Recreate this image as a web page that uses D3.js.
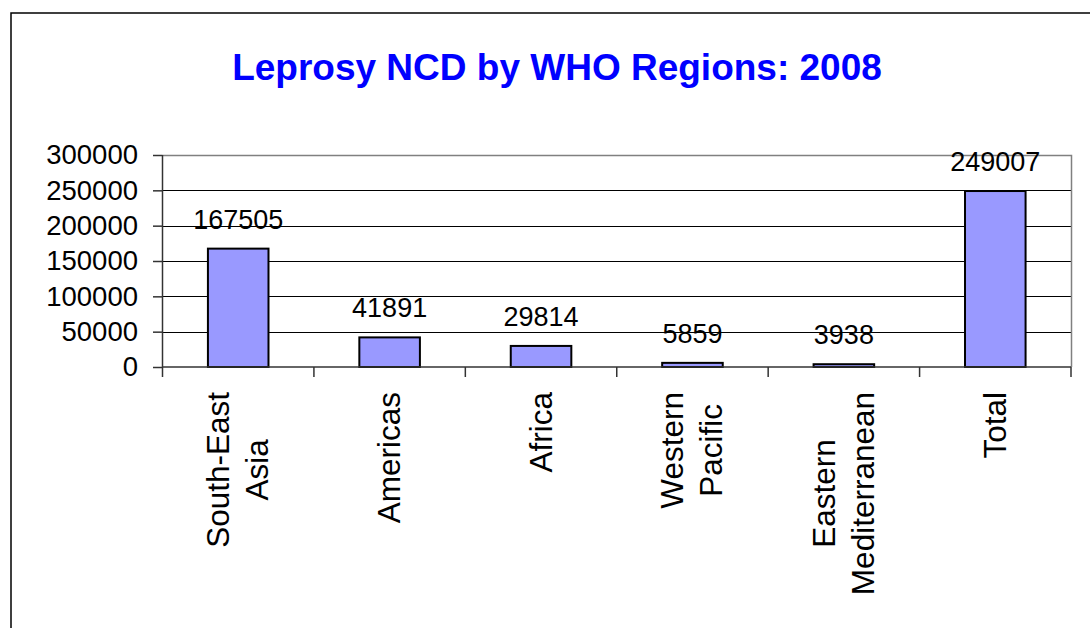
<!DOCTYPE html>
<html>
<head>
<meta charset="utf-8">
<script src="https://cdn.jsdelivr.net/npm/d3@7"></script>
<style>
  body { margin: 0; background: #fff; }
  text { font-family: "Liberation Sans", Arial, sans-serif; }
</style>
</head>
<body>
<svg id="chart"></svg>
<script>
const width = 1090;
const height = 628;

// data
const regions = [["South-East", "Asia"], ["Americas"], ["Africa"], ["Western", "Pacific"], ["Eastern", "Mediterranean"], ["Total"]];
const cases = [167505, 41891, 29814, 5859, 3938, 249007];
const yTicks = [0, 50000, 100000, 150000, 200000, 250000, 300000];
const title = "Leprosy NCD by WHO Regions: 2008";

const plot = { left: 162.5, right: 1071, top: 155, bottom: 367 };

let svg = d3.select("#chart")
  .attr("width", width)
  .attr("height", height);

// outer frame
svg.append("rect")
  .attr("x", 11)
  .attr("y", 13)
  .attr("width", 1200)
  .attr("height", 800)
  .attr("fill", "none")
  .attr("stroke", "#000")
  .attr("stroke-width", 1.5);

svg.append("text")
  .attr("x", 557)
  .attr("y", 80)
  .attr("text-anchor", "middle")
  .attr("font-size", "37px")
  .attr("font-weight", "bold")
  .attr("fill", "#0000ff")
  .text(title);

const keys = regions.map(d => d.join(" "));

const xScale = d3.scaleBand()
  .domain(keys)
  .range([plot.left, plot.right])
  .paddingInner(0.6)
  .paddingOuter(0.3);

const yScale = d3.scaleLinear()
  .domain([0, 300000])
  .range([plot.bottom, plot.top]);

// gridlines
svg.append("g")
  .selectAll("line")
  .data(yTicks.slice(1, -1))
  .enter()
  .append("line")
  .attr("x1", plot.left)
  .attr("x2", plot.right)
  .attr("y1", d => Math.round(yScale(d)) + 0.5)
  .attr("y2", d => Math.round(yScale(d)) + 0.5)
  .attr("stroke", "#000")
  .attr("stroke-width", 1);

// plot area border (top + right)
svg.append("path")
  .attr("d", `M${plot.left},${plot.top + 0.5}H${plot.right + 0.5}V${plot.bottom}`)
  .attr("fill", "none")
  .attr("stroke", "#808080")
  .attr("stroke-width", 1.5);

// bars
svg.append("g")
  .selectAll("rect")
  .data(cases)
  .enter()
  .append("rect")
  .attr("x", (d, i) => xScale(keys[i]))
  .attr("y", d => yScale(d))
  .attr("width", xScale.bandwidth())
  .attr("height", d => plot.bottom - yScale(d))
  .attr("fill", "#9999ff")
  .attr("stroke", "#000")
  .attr("stroke-width", 2);

// value labels
svg.append("g")
  .selectAll("text")
  .data(cases)
  .enter()
  .append("text")
  .attr("x", (d, i) => xScale(keys[i]) + xScale.bandwidth() / 2)
  .attr("y", d => yScale(d) - 20)
  .attr("text-anchor", "middle")
  .attr("font-size", "27px")
  .attr("fill", "#000")
  .text(d => d);

// y axis
const yAxis = d3.axisLeft(yScale)
  .tickValues(yTicks)
  .tickSizeInner(9.5)
  .tickSizeOuter(0)
  .tickPadding(15)
  .tickFormat(d3.format("d"));

const gy = svg.append("g")
  .attr("transform", `translate(${plot.left}, 0)`)
  .call(yAxis);
gy.select(".domain").attr("stroke", "#333").attr("stroke-width", 1.5)
  .attr("d", `M0,${plot.top}V${plot.bottom + 10}`);
gy.selectAll(".tick line").attr("stroke", "#333").attr("stroke-width", 1.5);
gy.selectAll(".tick text")
  .attr("font-size", "27.5px")
  .attr("font-family", "Liberation Sans, Arial, sans-serif")
  .attr("fill", "#000");

// x axis line and category boundary ticks
const bounds = d3.range(1, keys.length + 1).map(i => plot.left + i * (plot.right - plot.left) / keys.length);
svg.append("line")
  .attr("x1", plot.left)
  .attr("x2", plot.right)
  .attr("y1", plot.bottom)
  .attr("y2", plot.bottom)
  .attr("stroke", "#333")
  .attr("stroke-width", 1.5);
svg.append("g")
  .selectAll("line")
  .data(bounds)
  .enter()
  .append("line")
  .attr("x1", d => d)
  .attr("x2", d => d)
  .attr("y1", plot.bottom)
  .attr("y2", plot.bottom + 10)
  .attr("stroke", "#333")
  .attr("stroke-width", 1.5);

// category labels, rotated; lines centred inside a block hung from the axis
const lineGap = 39;
const cats = svg.append("g")
  .selectAll("text")
  .data(regions)
  .enter()
  .append("text")
  .attr("transform", (d, i) => {
    const cx = xScale(keys[i]) + xScale.bandwidth() / 2;
    const bx = cx + 10.5 - (d.length - 1) * lineGap / 2;
    return `translate(${bx}, 392) rotate(-90)`;
  })
  .attr("text-anchor", "middle")
  .attr("font-size", "31.5px")
  .attr("fill", "#000");

cats.each(function (lines) {
  const t = d3.select(this);
  const spans = lines.map((ln, j) => t.append("tspan")
    .attr("y", j * lineGap)
    .text(ln));
  const maxLen = d3.max(spans, s => s.node().getComputedTextLength());
  spans.forEach(s => s.attr("x", -maxLen / 2));
});
</script>
</body>
</html>
